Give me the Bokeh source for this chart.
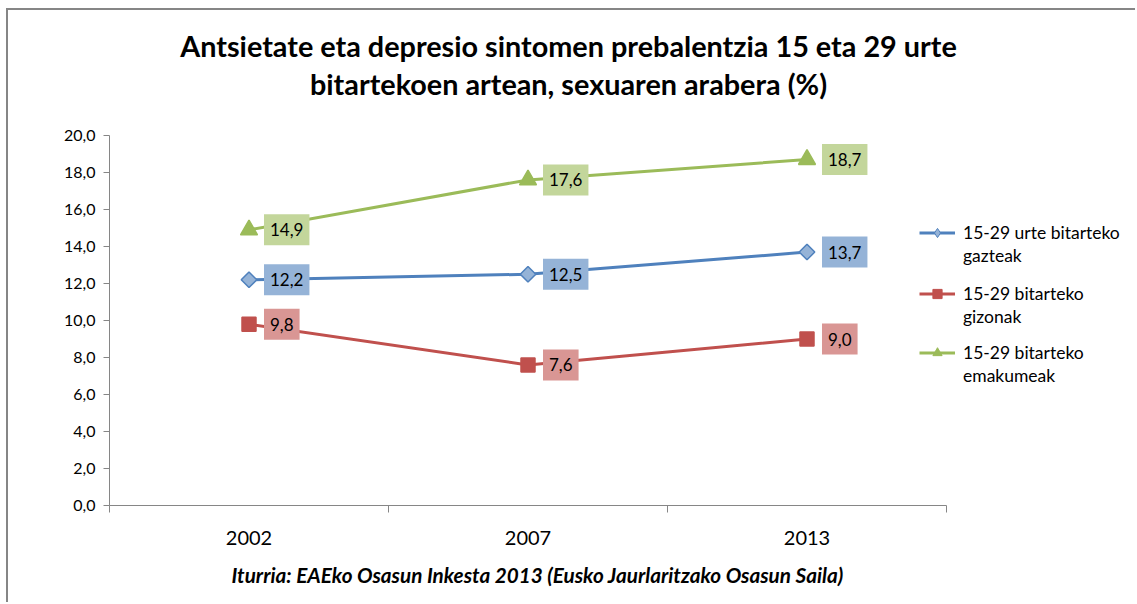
from bokeh.plotting import figure
from bokeh.models import Range1d, FixedTicker, Legend, LegendItem, Title, Label, ColumnDataSource
from bokeh.core.properties import value
from bokeh.embed import file_html
from bokeh.resources import INLINE

# ---- data ----
years = ["2002", "2007", "2013"]
gazteak = [12.2, 12.5, 13.7]
gizonak = [9.8, 7.6, 9.0]
emakumeak = [14.9, 17.6, 18.7]
series_labels = [
    ["15-29 urte bitarteko", "gazteak"],
    ["15-29 bitarteko", "gizonak"],
    ["15-29 bitarteko", "emakumeak"],
]
y_ticks = [0, 2, 4, 6, 8, 10, 12, 14, 16, 18, 20]
title_lines = ["Antsietate eta depresio sintomen prebalentzia 15 eta 29 urte",
               "bitartekoen artean, sexuaren arabera (%)"]
source_text = "Iturria: EAEko Osasun Inkesta 2013 (Eusko Jaurlaritzako Osasun Saila)"

FONT = "Lato"
AXIS_COLOR = "#868686"

line_colors = ["#4F81BD", "#C0504D", "#9BBB59"]
marker_fill = ["#95B3D7", "#C0504D", "#9BBB59"]
box_colors = ["#95B3D7", "#D99694", "#C3D69B"]
markers = ["square", "square", "triangle"]
legend_markers = ["diamond", "square", "triangle"]
marker_angles = [0.785398, 0.0, 0.0]
marker_sizes = [11, 14, 17]
legend_y = [238, 177, 118]

# ---- layout (pixels) ----
W, H = 1129, 594
LEFT, BOTTOM = 101, 99
AXIS_W, AXIS_H = 837, 370          # pixel extent of the drawn axes
frame_w, frame_h = W - LEFT, H - BOTTOM

n = len(years)
xs = list(range(n))
y_max = y_ticks[-1]
x_end = -0.5 + frame_w / AXIS_W * n
y_end = frame_h / AXIS_H * y_max

p = figure(width=W, height=H, output_backend="svg", toolbar_location=None,
           x_range=Range1d(-0.5, x_end), y_range=Range1d(0, y_end),
           min_border_left=LEFT, min_border_right=0, min_border_top=0, min_border_bottom=BOTTOM)
p.outline_line_color = None
p.grid.visible = False
p.background_fill_color = "white"
p.border_fill_color = "white"
p.styles = {"margin-left": "6px", "margin-top": "8px",
            "border-left": "2px solid #868686", "border-top": "2px solid #868686"}

# x axis
p.xaxis.bounds = (-0.5, n - 0.5)
p.xaxis.ticker = FixedTicker(ticks=xs, minor_ticks=[x - 0.5 for x in xs] + [xs[-1] + 0.5])
p.xaxis.major_label_overrides = {x: y for x, y in zip(xs, years)}
p.xaxis.major_tick_out = 0
p.xaxis.major_tick_in = 0
p.xaxis.minor_tick_out = 7
p.xaxis.minor_tick_in = 0
p.xaxis.minor_tick_line_color = AXIS_COLOR
p.xaxis.axis_line_color = AXIS_COLOR
p.xaxis.major_label_text_font = FONT
p.xaxis.major_label_text_font_size = "20px"
p.xaxis.major_label_text_color = "#000000"
p.xaxis.major_label_standoff = 18

# y axis
p.yaxis.bounds = (0, y_max)
p.yaxis.ticker = FixedTicker(ticks=y_ticks, minor_ticks=[])
p.yaxis.major_label_overrides = {t: f"{t:.1f}".replace(".", ",") for t in y_ticks}
p.yaxis.major_tick_out = 6
p.yaxis.major_tick_in = 0
p.yaxis.minor_tick_line_color = None
p.yaxis.major_tick_line_color = AXIS_COLOR
p.yaxis.axis_line_color = AXIS_COLOR
p.yaxis.major_label_text_font = FONT
p.yaxis.major_label_text_font_size = "16px"
p.yaxis.major_label_text_color = "#000000"
p.yaxis.major_label_standoff = 8

series = [gazteak, gizonak, emakumeak]
renderers = []
for i, vals in enumerate(series):
    src = ColumnDataSource(dict(x=xs, y=vals))
    lr = p.line("x", "y", source=src, line_color=line_colors[i], line_width=3)
    # legend marker proxy: zero size in the plot, legend sizes it itself
    lm = p.scatter("x", "y", source=src, marker=legend_markers[i], size=0,
                   fill_color=marker_fill[i], line_color=line_colors[i], line_width=1)
    p.scatter("x", "y", source=src, marker=markers[i], size=marker_sizes[i], angle=marker_angles[i],
              fill_color=marker_fill[i], line_color=line_colors[i], line_width=1.5)
    renderers.append((lr, lm))

for i, vals in enumerate(series):
    tsrc = ColumnDataSource(dict(x=xs, y=vals, t=[f"{v:.1f}".replace(".", ",") for v in vals]))
    p.text("x", "y", "t", source=tsrc, x_offset=15, text_align="left", text_baseline="middle",
           text_font=value(FONT), text_font_size="17px", text_color="#000000",
           background_fill_color=box_colors[i], padding=(6, 9))

for i, (lr, lm) in enumerate(renderers):
    dummy = p.line([], [], line_alpha=0)
    leg = Legend(items=[LegendItem(label=series_labels[i][0], renderers=[lr, lm]),
                        LegendItem(label=series_labels[i][1], renderers=[dummy])],
                 location=(810, legend_y[i]), orientation="vertical", padding=0, margin=0, spacing=0,
                 glyph_width=36, glyph_height=23, label_height=23, label_standoff=8,
                 label_text_font=FONT, label_text_font_size="17.5px", label_text_color="#000000",
                 border_line_color=None, background_fill_alpha=0)
    p.add_layout(leg)

for txt, ty in zip(title_lines, [460, 422]):
    p.add_layout(Label(x=459, y=ty, x_units="screen", y_units="screen", text=txt,
                       text_align="center", text_baseline="middle", text_font=FONT,
                       text_font_style="bold", text_font_size="28.8px", text_color="#000000"))

p.add_layout(Title(text=source_text, align="left", offset=122, text_font=FONT,
                   text_font_style="bold italic", text_font_size="20.7px", text_color="#000000",
                   standoff=26), "below")

open("out.html", "w").write(file_html(p, INLINE))
